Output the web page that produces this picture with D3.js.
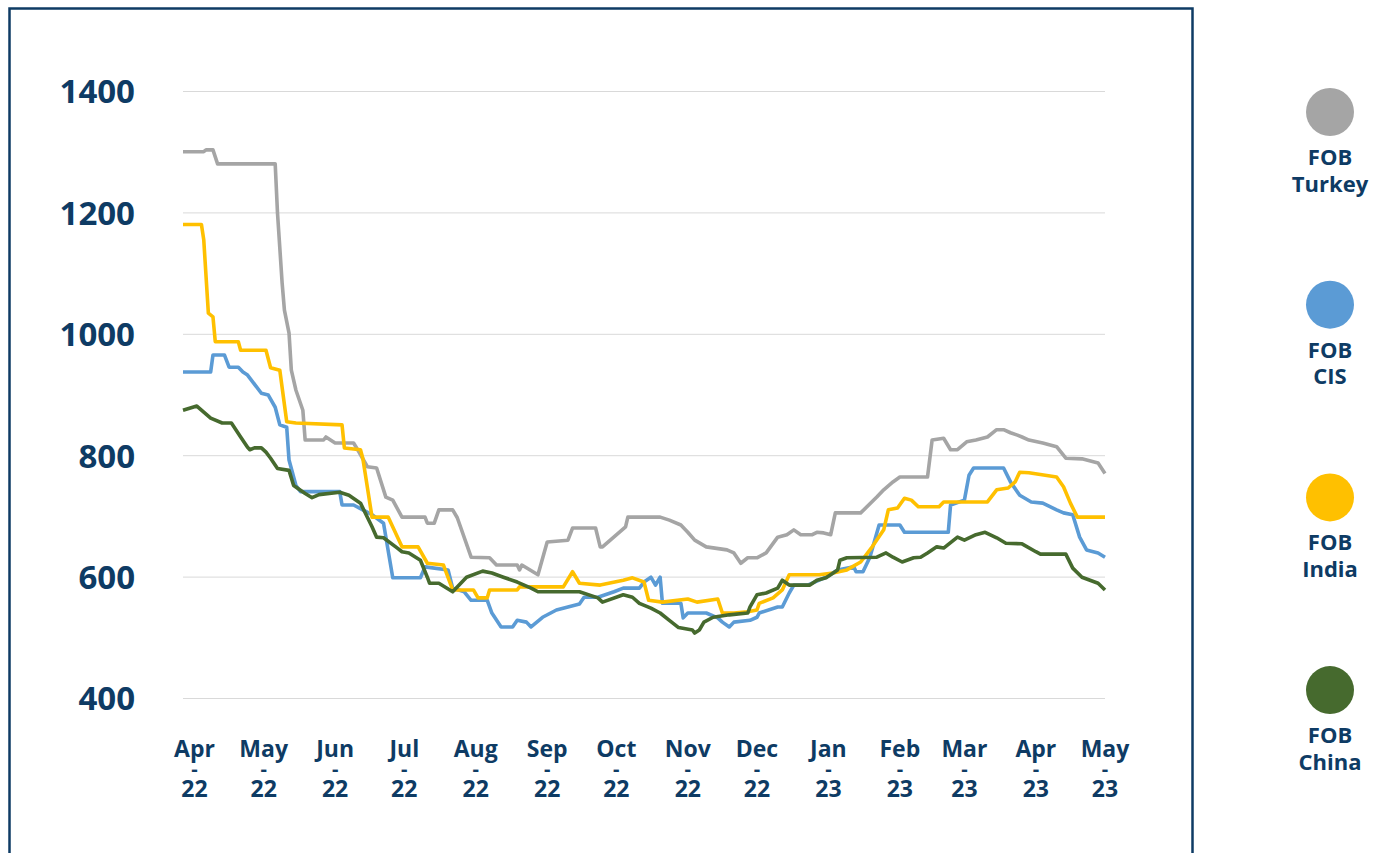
<!DOCTYPE html>
<html>
<head>
<meta charset="utf-8">
<script src="https://cdn.jsdelivr.net/npm/d3@7"></script>
<style>
  body { margin: 0; background: #fff; }
  svg text { font-family: "Open Sans", sans-serif; font-weight: 700; fill: #0e3b64; }
</style>
</head>
<body>
<svg id="chart" width="1383" height="853"></svg>
<script>
// days counted from 27 Mar 2022, value in USD/t
const startDate = new Date(2022, 2, 27);
const endDay = 400;

const turkey = [[0,1300],[9,1300],[10,1303],[13,1303],[15,1280],[40,1280],[41,1199],[43,1084],[44,1039],[46,1001],[47,940],[49,907],[52,874],[53,825],[61,825],[62,830],[66,820],[74,820],[75,814],[80,781],[84,779],[88,731],[91,726],[95,698],[105,698],[106,688],[109,688],[111,710],[117,710],[119,697],[125,632],[133,631],[136,619],[145,619],[146,611],[147,619],[154,603],[158,657],[167,660],[169,680],[179,680],[181,649],[182,649],[192,682],[193,698],[207,698],[211,693],[216,685],[219,673],[222,660],[227,649],[236,644],[239,639],[242,622],[245,631],[249,631],[253,639],[258,665],[262,669],[265,677],[268,669],[273,669],[275,673],[278,672],[281,669],[283,705],[294,705],[301,731],[304,743],[308,756],[311,764],[323,764],[325,825],[330,828],[333,809],[336,809],[340,822],[344,825],[349,830],[353,842],[356,842],[359,837],[362,833],[364,830],[367,825],[373,820],[379,814],[383,795],[390,794],[397,787],[400,770]];

const cis = [[0,937],[12,937],[13,965],[18,965],[20,945],[24,945],[26,937],[28,932],[34,902],[37,899],[40,879],[42,850],[45,846],[46,792],[49,750],[51,740],[68,740],[69,718],[74,718],[78,710],[82,702],[87,688],[91,598],[103,598],[105,616],[115,611],[117,581],[122,575],[125,561],[132,561],[134,540],[138,517],[143,517],[145,528],[149,525],[151,517],[156,533],[162,545],[167,550],[172,555],[174,566],[180,566],[187,575],[191,581],[198,581],[200,591],[203,599],[205,586],[207,599],[208,556],[216,556],[217,532],[219,540],[227,540],[232,532],[234,525],[237,517],[239,525],[246,528],[249,533],[250,540],[258,550],[260,550],[263,573],[265,586],[271,586],[279,599],[284,611],[291,616],[292,608],[295,608],[298,632],[302,685],[311,685],[313,673],[332,673],[333,718],[339,726],[341,767],[343,779],[356,779],[359,756],[363,734],[368,723],[373,721],[379,710],[382,705],[386,702],[389,665],[392,644],[397,639],[400,632]];

const india = [[0,1180],[8,1180],[9,1155],[11,1034],[13,1028],[14,987],[24,987],[25,973],[36,973],[38,944],[42,940],[45,855],[49,853],[69,850],[70,812],[77,809],[78,795],[79,771],[82,698],[89,698],[95,649],[102,649],[106,622],[113,619],[117,578],[126,578],[128,565],[132,565],[133,578],[145,578],[146,583],[165,583],[169,608],[172,589],[181,586],[191,594],[195,598],[200,591],[202,561],[208,558],[219,563],[223,558],[232,563],[234,540],[239,540],[245,542],[249,545],[250,556],[256,565],[260,578],[263,603],[276,603],[282,606],[288,611],[294,624],[299,649],[304,677],[306,710],[310,713],[313,729],[316,726],[319,715],[328,715],[330,723],[349,723],[353,743],[358,746],[361,756],[363,772],[367,771],[379,764],[382,748],[385,721],[388,698],[400,698]];

const china = [[0,874],[6,881],[9,871],[12,861],[17,853],[21,853],[25,830],[28,813],[29,809],[31,812],[34,812],[36,805],[38,795],[41,778],[46,775],[48,750],[53,737],[56,730],[59,735],[68,739],[72,734],[77,721],[82,682],[84,665],[87,664],[93,647],[95,641],[98,639],[103,627],[106,599],[107,589],[111,589],[117,575],[123,599],[130,609],[134,606],[139,599],[145,591],[151,581],[154,575],[172,575],[180,565],[182,558],[191,570],[195,566],[198,556],[203,548],[207,540],[211,528],[215,516],[221,512],[222,507],[224,512],[226,525],[230,533],[237,537],[245,540],[246,550],[249,570],[253,573],[258,581],[260,594],[263,586],[272,586],[275,594],[279,598],[284,611],[285,627],[288,631],[301,632],[305,639],[308,632],[312,624],[317,631],[320,632],[323,639],[327,649],[330,647],[336,665],[339,660],[344,669],[348,673],[353,664],[357,655],[364,654],[370,641],[372,637],[383,637],[386,614],[390,599],[397,589],[400,578]];

const seriesNames = ["FOB Turkey", "FOB CIS", "FOB India", "FOB China"];
const seriesData = [turkey, cis, india, china];
const colors = ["#a5a5a5", "#5b9bd5", "#ffc000", "#466a2e"];
const yTicks = [400, 600, 800, 1000, 1200, 1400];

const svg = d3.select("#chart");

// outer frame
svg.append("rect")
  .attr("x", 9.5).attr("y", 8.5)
  .attr("width", 1183).attr("height", 870)
  .attr("fill", "none")
  .attr("stroke", "#0e3b64")
  .attr("stroke-width", 2.5);

const x = d3.scaleTime()
  .domain([startDate, d3.timeDay.offset(startDate, endDay)])
  .range([183, 1105]);

const y = d3.scaleLinear()
  .domain([400, 1400])
  .range([698, 91]);

// grid lines
svg.append("g")
  .attr("transform", "translate(183,0)")
  .call(d3.axisLeft(y).tickValues(yTicks).tickSize(-922).tickFormat(""))
  .call(g => g.select(".domain").remove())
  .call(g => g.selectAll("line").attr("stroke", "#d9d9d9").attr("stroke-width", 1));

// y labels
svg.append("g")
  .attr("transform", "translate(183,0)")
  .call(d3.axisLeft(y).tickValues(yTicks).tickSize(0).tickPadding(48).tickFormat(d3.format("d")))
  .call(g => g.select(".domain").remove())
  .call(g => g.selectAll("text")
    .attr("font-size", 33)
    .attr("dy", "0.36em")
    .style("font-family", "'Open Sans', sans-serif")
    .style("font-weight", 700)
    .attr("fill", "#0e3b64"));

// x labels: month / - / year
const months = d3.timeMonth.range(new Date(2022, 3, 1), new Date(2023, 4, 2));
const monthFmt = d3.timeFormat("%b");
const yearFmt = d3.timeFormat("%y");
const xl = svg.append("g").selectAll("g")
  .data(months)
  .join("g")
  .attr("transform", d => `translate(${x(d)},0)`)
  .attr("text-anchor", "middle")
  .attr("font-size", 23);
xl.append("text").attr("y", 757).text(d => monthFmt(d));
xl.append("text").attr("y", 776).attr("font-size", 20).text("-");
xl.append("text").attr("y", 797).text(d => yearFmt(d));

// lines
const line = d3.line()
  .x(d => x(d3.timeDay.offset(startDate, d[0])))
  .y(d => y(d[1]));

svg.append("g").selectAll("path")
  .data(seriesData)
  .join("path")
  .attr("d", d => line(d))
  .attr("fill", "none")
  .attr("stroke", (d, i) => colors[i])
  .attr("stroke-width", 3.6)
  .attr("stroke-linejoin", "round");

// legend
const legend = svg.append("g").selectAll("g")
  .data(seriesNames)
  .join("g")
  .attr("transform", (d, i) => `translate(1330,${112 + i * 192.7})`);
legend.append("circle").attr("r", 24).attr("fill", (d, i) => colors[i]);
const lt = legend.append("text").attr("text-anchor", "middle").attr("font-size", 22).attr("y", 53);
lt.append("tspan").attr("x", 0).text(d => d.split(" ")[0]);
lt.append("tspan").attr("x", 0).attr("dy", 26.5).text(d => d.split(" ")[1]);
</script>
</body>
</html>
